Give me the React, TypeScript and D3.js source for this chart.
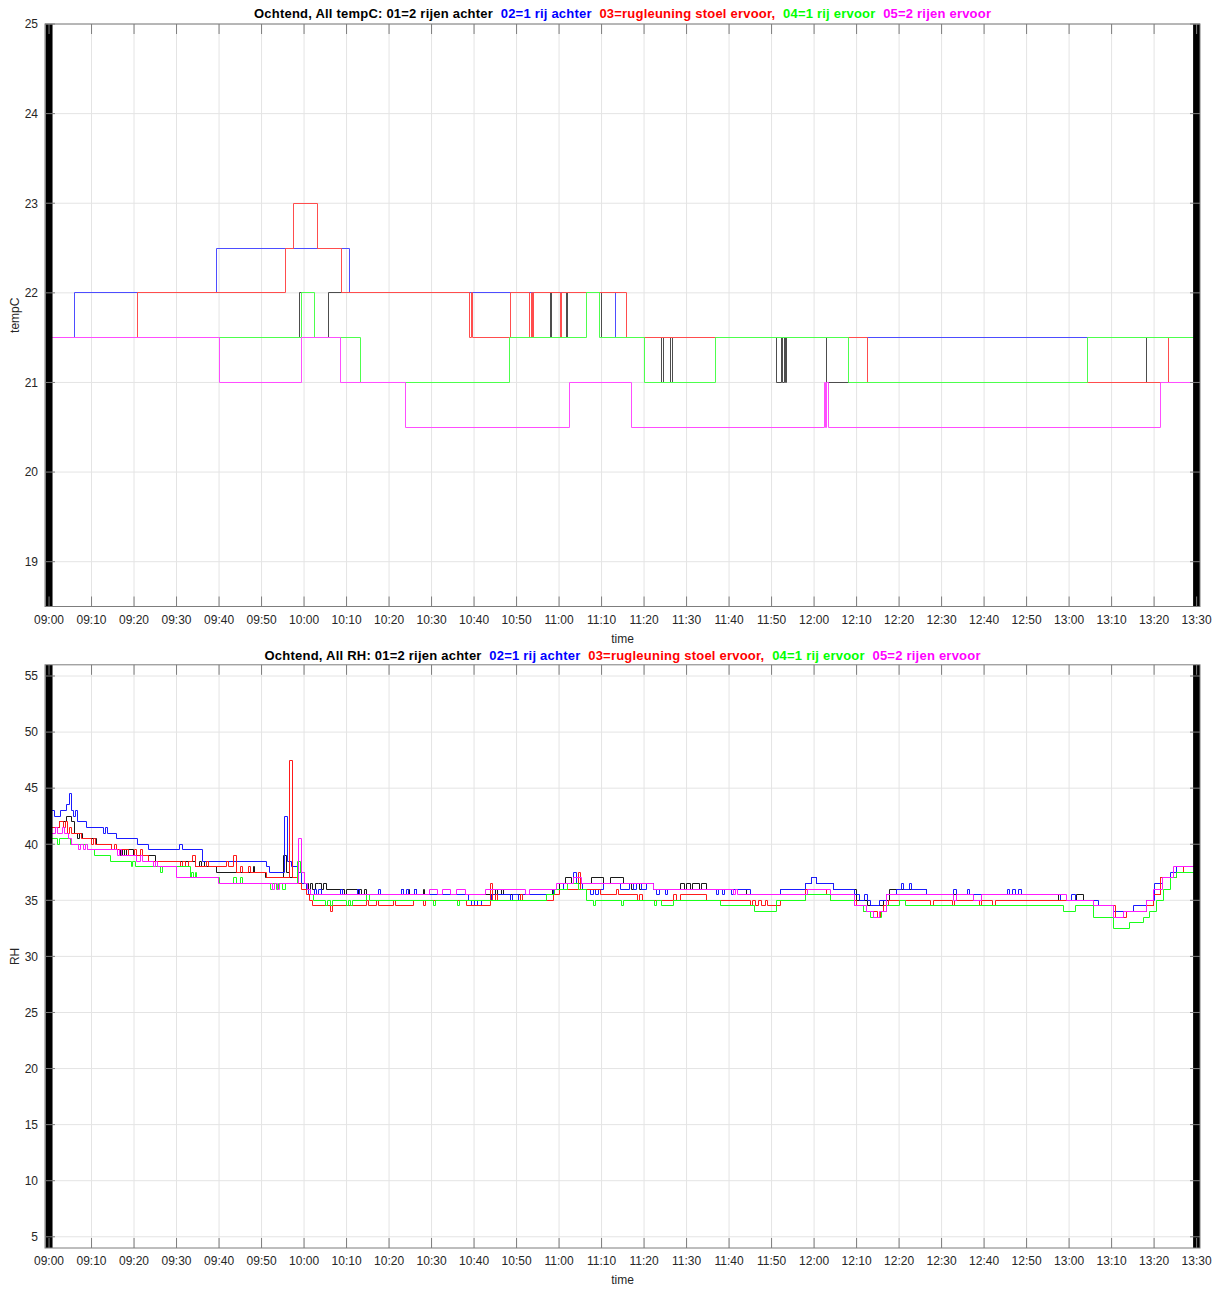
import React from 'react';
import * as d3 from 'd3';

// ---------- DATA ----------
// time in minutes after 09:00
const timeTickMinutes = [0, 10, 20, 30, 40, 50, 60, 70, 80, 90, 100, 110, 120, 130, 140, 150, 160, 170, 180, 190, 200, 210, 220, 230, 240, 250, 260, 270];
const timeTickLabels = ['09:00', '09:10', '09:20', '09:30', '09:40', '09:50', '10:00', '10:10', '10:20', '10:30', '10:40', '10:50', '11:00', '11:10', '11:20', '11:30', '11:40', '11:50', '12:00', '12:10', '12:20', '12:30', '12:40', '12:50', '13:00', '13:10', '13:20', '13:30'];
const tempTicks = [19, 20, 21, 22, 23, 24, 25];
const rhTicks = [5, 10, 15, 20, 25, 30, 35, 40, 45, 50, 55];
const edgeMarkers = [0, 270];

const seriesColors = ['#000000', '#0000ff', '#ff0000', '#00ff00', '#ff00ff'];
const titleTempParts = ['Ochtend, All tempC: 01=2 rijen achter  ', '02=1 rij achter  ', '03=rugleuning stoel ervoor,  ', '04=1 rij ervoor  ', '05=2 rijen ervoor'];
const titleRhParts = ['Ochtend, All RH: 01=2 rijen achter  ', '02=1 rij achter  ', '03=rugleuning stoel ervoor,  ', '04=1 rij ervoor  ', '05=2 rijen ervoor'];

// temperature [minute, value] change points
const temp01: [number, number][] = [[0, 21.5], [59, 22], [59.4, 21.5], [65.8, 22], [118, 21.5], [118.3, 22], [121.8, 21.5], [122.1, 22], [130, 21.5], [144.2, 21], [144.5, 21.5], [146.3, 21], [146.6, 21.5], [171.2, 21], [172.3, 21.5], [172.6, 21], [173, 21.5], [173.3, 21], [173.6, 21.5], [183, 21], [258.3, 21.5], [270, 21.5]];
const temp02: [number, number][] = [[0, 21.5], [6.05, 22], [39.5, 22.5], [70.7, 22], [133.2, 21.5], [270, 21.5]];
const temp03: [number, number][] = [[0, 21.5], [20.7, 22], [55.7, 22.5], [57.6, 23], [63.2, 22.5], [68.9, 22], [98.9, 21.5], [99.3, 22], [99.6, 21.5], [108.5, 22], [113, 21.5], [113.4, 22], [113.7, 21.5], [114, 22], [120.3, 21.5], [120.6, 22], [135.8, 21.5], [192.5, 21], [263.4, 21.5], [270, 21.5]];
const temp04: [number, number][] = [[0, 21.5], [59.3, 22], [62.4, 21.5], [73.3, 21], [108.3, 21.5], [126.5, 22], [129.4, 21.5], [140.2, 21], [156.9, 21.5], [188.2, 21], [244.3, 21.5], [270, 21.5]];
const temp05: [number, number][] = [[0, 21.5], [40, 21], [59.3, 21.5], [68.5, 21], [83.8, 20.5], [122.4, 21], [137, 20.5], [182.4, 21], [182.7, 20.5], [183, 21], [183.4, 20.5], [261.6, 21], [270, 21]];

// relative humidity [minute, value] change points
const rh01: [number, number][] = [[0, 41.5], [2.5, 42], [4.2, 42.5], [5.2, 42], [5.9, 41], [6.6, 40.5], [7.2, 41], [7.8, 40.5], [11.2, 40], [14.8, 39.5], [16.8, 39], [17.2, 39.5], [17.8, 39], [18.2, 39.5], [19.8, 39], [25, 38.5], [34.5, 38], [35.3, 38.5], [35.8, 38], [36.6, 38.5], [37, 38], [39.5, 37.5], [48, 38], [48.4, 37.5], [51, 37], [55.2, 39], [55.8, 37.5], [56.5, 37], [58.5, 37.5], [59.3, 36.5], [61, 36], [61.6, 36.5], [62, 36], [62.6, 36.5], [63.5, 36.5], [64, 36], [64.6, 36.5], [65.2, 36], [69.5, 35.5], [69.9, 36], [72.5, 35.5], [72.9, 36], [73.5, 35.5], [74.2, 36], [74.7, 35.5], [83, 36], [83.4, 35.5], [84.5, 36], [84.9, 35.5], [86, 36], [86.4, 35.5], [88, 36], [88.4, 35.5], [105, 36], [105.5, 35.5], [106.5, 36], [107, 35.5], [118.5, 36], [120, 36.5], [121.5, 37], [123, 36.5], [127.7, 37], [130.4, 36.5], [132, 37], [135.2, 36.5], [137, 36], [137.4, 36.5], [139, 36], [139.4, 36.5], [142.2, 36], [148.5, 36.5], [149.5, 36], [150, 36.5], [151, 36], [151.5, 36.5], [153, 36], [153.5, 36.5], [154.8, 36], [164, 35.5], [172, 36], [178, 36.5], [179.5, 37], [180.5, 36.5], [184.5, 36], [190, 35], [192.5, 34.5], [196.3, 35], [197.8, 36], [206.5, 35.5], [237.5, 35], [241.7, 35.5], [243.5, 35], [245.7, 34.5], [250.4, 34], [258.3, 34.5], [259.8, 35.5], [261.5, 37], [265.3, 38], [270, 38]];
const rh02: [number, number][] = [[0, 43], [1.3, 42.5], [2.7, 43], [4.2, 43.5], [4.7, 44.5], [5.2, 43], [5.7, 42.5], [6.2, 43], [6.6, 42], [8.9, 41.5], [12.8, 41], [13.3, 41.5], [13.8, 41], [15.9, 40.5], [20.9, 40], [23.3, 39.5], [30.8, 40], [31.3, 39.5], [36, 38.5], [51.2, 38], [51.8, 37.5], [55.3, 42.5], [56, 38.5], [57, 38], [58.8, 37.5], [59.5, 36.5], [60.5, 36], [61, 35.5], [62.5, 36], [63, 35.5], [63.5, 36], [64, 35.5], [68.5, 36], [69, 35.5], [72.5, 36], [73, 35.5], [77.5, 36], [78, 35.5], [83, 36], [83.5, 35.5], [84, 36], [84.5, 35.5], [86, 36], [86.5, 35.5], [98.7, 35], [99.5, 34.5], [100, 35], [100.8, 34.5], [101.8, 35], [104, 35.5], [108.5, 35], [109, 35.5], [110.5, 35], [111, 35.5], [118.7, 36], [121, 36.5], [123.3, 37.5], [124, 36.5], [125.5, 36], [127.3, 35.5], [128, 36], [128.6, 35.5], [129.2, 36], [130.5, 36.5], [134.4, 36], [136.6, 36.5], [137.5, 36], [138.2, 36.5], [139.5, 36], [140.5, 36.5], [142.2, 36], [143, 35.5], [143.7, 36], [145, 35.5], [145.6, 36], [157, 35.5], [157.6, 36], [158.5, 35.5], [159, 36], [160.5, 35.5], [161, 36], [165, 35.5], [172, 36], [178, 36.5], [179.5, 37], [180.5, 36.5], [184.5, 36], [189.6, 35.5], [190.8, 35], [191.8, 35.5], [192.5, 35], [193.2, 34.5], [195.5, 35], [197, 35.5], [199.4, 36], [200.5, 36.5], [201, 36], [202.5, 36.5], [203, 36], [206.5, 35.5], [212.8, 36], [213.5, 35.5], [216, 36], [216.5, 35.5], [225.5, 36], [226, 35.5], [226.8, 36], [227.3, 35.5], [228.2, 36], [228.7, 35.5], [238, 35], [240.5, 35.5], [241.5, 35], [247, 34.5], [250.4, 34], [255.1, 34.5], [258.3, 35], [260, 36.5], [262, 37], [263.8, 37.5], [265.3, 38], [270, 38]];
const rh03: [number, number][] = [[0, 41.5], [2.5, 42], [3.3, 41.5], [3.8, 42], [4.3, 41], [4.8, 41.5], [5.3, 41], [7.7, 40.5], [10, 40], [10.5, 40.5], [11, 40], [14.7, 39.5], [15.3, 40], [15.8, 39.5], [18.7, 39], [20, 39.5], [20.5, 39], [21.5, 39.5], [22, 39], [23.4, 38.5], [31, 38], [31.5, 38.5], [32.2, 38], [32.7, 38.5], [33.8, 39], [34.4, 38], [37, 38.5], [37.5, 38], [41.8, 38.5], [42.2, 38], [43.5, 39], [44, 37.5], [45, 38], [45.5, 37.5], [47, 38], [47.5, 37.5], [51.2, 37], [56.6, 47.5], [57.2, 37], [58.5, 36.5], [59.5, 36], [60.5, 35.5], [61.3, 35], [62, 34.5], [66.3, 34], [66.8, 34.5], [74.7, 35], [75.2, 34.5], [77, 35], [77.5, 34.5], [81, 35], [81.5, 34.5], [85.7, 35], [88, 34.5], [88.5, 35], [98.3, 34.5], [103.8, 36.5], [104.3, 35], [105, 35.5], [105.5, 35], [111, 35.5], [111.5, 35], [118.7, 35.5], [120.2, 36], [124.5, 37.5], [125, 36], [129.7, 35.5], [133.5, 36], [134, 35.5], [138.5, 35], [139, 35.5], [139.6, 35], [147, 35.5], [147.6, 35], [148.5, 35.5], [154.8, 35], [165, 34.5], [165.6, 35], [166.2, 34.5], [167, 35], [167.6, 34.5], [168.5, 35], [169, 34.5], [172, 35], [178, 36], [183, 35.5], [183.8, 35], [190, 34.5], [191.7, 34], [195, 33.5], [195.6, 34], [196.3, 34.5], [197.5, 35], [207.5, 34.5], [208, 35], [212.5, 34.5], [213, 35], [219, 34.5], [219.5, 35], [222, 34.5], [222.6, 35], [245.7, 34.5], [251, 33.5], [253.6, 34], [258.3, 34.5], [259.8, 35.5], [261.5, 37], [265.3, 37.5], [267, 38], [270, 38]];
const rh04: [number, number][] = [[0, 40.5], [2, 40], [2.5, 40.5], [5, 40], [9, 39.5], [10.8, 39], [14.4, 38.5], [19.3, 38], [19.7, 38.5], [20.3, 38], [26.2, 37.5], [26.8, 38], [33.2, 37], [33.6, 37.5], [34, 37], [34.4, 37.5], [34.8, 37], [40.2, 36.5], [43.5, 37], [44, 36.5], [45, 37], [45.5, 36.5], [52, 36], [52.6, 36.5], [53.5, 36], [54, 36.5], [55, 36], [55.6, 36.5], [58.5, 38.5], [59.2, 37.5], [60, 36.5], [60.7, 36], [61.4, 35.5], [62.3, 35], [65, 34.5], [65.5, 35], [66.2, 34.5], [66.8, 35], [70, 34.5], [70.5, 35], [71, 34.5], [71.4, 35], [74.7, 35.5], [75.5, 35], [90.5, 34.5], [91, 35], [96, 34.5], [96.5, 35], [117, 35.5], [119, 36], [122, 36.5], [124.5, 36], [126.5, 35], [128, 34.5], [128.5, 35], [134.6, 34.5], [135.1, 35], [142.4, 34.5], [142.9, 35], [144.2, 34.5], [147, 35], [158, 34.5], [166, 34], [171.2, 35], [178, 35.5], [183.8, 35], [189.6, 34.5], [191.6, 34], [193.2, 33.5], [195.9, 34], [197, 34.5], [200.2, 35], [201.5, 34.5], [238.7, 34], [241.5, 34.5], [245.7, 33.5], [250.4, 32.5], [254.3, 33], [257.5, 33.5], [259, 34], [260.6, 35], [262.2, 36], [263.8, 37], [265.3, 37.5], [270, 37.5]];
const rh05: [number, number][] = [[0, 41], [1.5, 41.5], [2, 41], [3.2, 41.5], [3.7, 41], [4.5, 40.5], [5.2, 40], [7, 39.5], [7.4, 40], [8, 39.5], [8.5, 40], [9, 39.5], [16, 39], [16.5, 39.5], [17, 39], [20.6, 38.5], [21.5, 39], [22, 38.5], [24.5, 38], [25, 38.5], [25.5, 38], [30, 37], [39.8, 36.5], [52.5, 36], [53, 36.5], [53.8, 36], [54.3, 36.5], [58.7, 40.5], [59.4, 37.5], [60, 36.5], [60.8, 36], [61.5, 35.5], [89.5, 36], [91.5, 35.5], [92.5, 36], [94.5, 35.5], [95.9, 36], [97.9, 35.5], [102.6, 36], [112, 35.5], [113, 36], [119.5, 36.5], [123.4, 37], [125.3, 36.5], [142.2, 36], [161, 35.5], [161.5, 36], [162, 35.5], [178.5, 36], [183.8, 35.5], [189.6, 34.5], [192.4, 34], [194, 33.5], [195.5, 34], [197, 35.5], [212.8, 35], [213.5, 35.5], [217.5, 35], [219.5, 35.5], [239.5, 35], [245.7, 34.5], [250.4, 33.5], [252.8, 34], [258.3, 35], [259.8, 36], [262, 37], [264.5, 38], [270, 38]];

const tempSeries = [temp01, temp02, temp03, temp04, temp05];
const rhSeries = [rh01, rh02, rh03, rh04, rh05];

// ---------- LAYOUT ----------
const W = 1219;
const H = 1289;
const X0 = 45;
const X1 = 1200;
const xScale = d3.scaleLinear().domain([-0.95, 270.8]).range([X0, X1]);
const snap = (v: number) => Math.round(v - 0.5) + 0.5;

const AXIS = '#7d7d7d';
const GRID = '#e4e4e4';
const TXT = '#262626';
const FONT = 'Liberation Sans, Arial, Helvetica, sans-serif';

type PanelProps = {
  id: string;
  top: number;
  bottom: number;
  yDomain: [number, number];
  yTicks: number[];
  series: [number, number][][];
  lighten: number;
  titleParts: string[];
  titleY: number;
  titleWidth: number;
  ylabel: string;
};

function Panel({ id, top, bottom, yDomain, yTicks, series, lighten, titleParts, titleY, titleWidth, ylabel }: PanelProps) {
  const y = d3.scaleLinear().domain(yDomain).range([bottom, top]);
  const line = d3
    .line<[number, number]>()
    .x((d) => snap(xScale(d[0])))
    .y((d) => snap(y(d[1])))
    .curve(d3.curveStepAfter);
  const lineColors = seriesColors.map((c) => d3.interpolateRgb(c, '#ffffff')(lighten));
  const tick = 10;
  return (
    <g>
      <defs>
        <clipPath id={`clip-${id}`}>
          <rect x={X0} y={top} width={X1 - X0} height={bottom - top} />
        </clipPath>
      </defs>
      {/* grid */}
      {timeTickMinutes.map((m) => (
        <line key={`gx${m}`} x1={xScale(m)} x2={xScale(m)} y1={top} y2={bottom} stroke={GRID} strokeWidth={1} />
      ))}
      {yTicks.map((v) => (
        <line key={`gy${v}`} x1={X0} x2={X1} y1={y(v)} y2={y(v)} stroke={GRID} strokeWidth={1} />
      ))}
      {/* data */}
      <g clipPath={`url(#clip-${id})`}>
        {series.map((s, i) => (
          <path key={i} d={line(s) || ''} fill="none" stroke={lineColors[i]} strokeWidth={1} />
        ))}
        {edgeMarkers.map((m) => (
          <line key={`e${m}`} x1={xScale(m)} x2={xScale(m)} y1={top} y2={bottom} stroke="#000" strokeWidth={7} />
        ))}
      </g>
      {/* box */}
      <rect x={X0} y={top} width={X1 - X0} height={bottom - top} fill="none" stroke={AXIS} strokeWidth={1} />
      {/* ticks */}
      {timeTickMinutes.map((m) => (
        <g key={`tx${m}`}>
          <line x1={xScale(m)} x2={xScale(m)} y1={bottom} y2={bottom - tick} stroke={AXIS} />
          <line x1={xScale(m)} x2={xScale(m)} y1={top} y2={top + tick} stroke={AXIS} />
        </g>
      ))}
      {yTicks.map((v) => (
        <g key={`ty${v}`}>
          <line x1={X0} x2={X0 + tick} y1={y(v)} y2={y(v)} stroke={AXIS} />
          <line x1={X1} x2={X1 - tick} y1={y(v)} y2={y(v)} stroke={AXIS} />
        </g>
      ))}
      {/* tick labels */}
      {timeTickMinutes.map((m, i) => (
        <text key={`lx${m}`} x={xScale(m)} y={bottom + 17} textAnchor="middle" fontSize={12} fill={TXT} fontFamily={FONT}>
          {timeTickLabels[i]}
        </text>
      ))}
      {yTicks.map((v) => (
        <text key={`ly${v}`} x={X0 - 7} y={y(v) + 4.3} textAnchor="end" fontSize={12} fill={TXT} fontFamily={FONT}>
          {v}
        </text>
      ))}
      {/* axis labels */}
      <text x={(X0 + X1) / 2} y={bottom + 36} textAnchor="middle" fontSize={12} fill={TXT} fontFamily={FONT}>
        time
      </text>
      <text
        transform={`translate(19,${(top + bottom) / 2}) rotate(-90)`}
        textAnchor="middle"
        fontSize={12}
        fill={TXT}
        fontFamily={FONT}
      >
        {ylabel}
      </text>
      {/* title */}
      <text
        x={(X0 + X1) / 2}
        y={titleY}
        textAnchor="middle"
        fontSize={13}
        fontWeight="bold"
        fontFamily={FONT}
        textLength={titleWidth}
        lengthAdjust="spacing"
        style={{ whiteSpace: 'pre' }}
      >
        {titleParts.map((p, i) => (
          <tspan key={i} fill={seriesColors[i]}>
            {p}
          </tspan>
        ))}
      </text>
    </g>
  );
}

export default function App() {
  return (
    <svg
      width={W}
      height={H}
      style={{ position: 'absolute', left: 0, top: 0, background: '#fff' }}
      xmlns="http://www.w3.org/2000/svg"
    >
      <rect x={0} y={0} width={W} height={H} fill="#fff" />
      <Panel
        id="temp"
        top={24}
        bottom={606.5}
        yDomain={[18.5, 25]}
        yTicks={tempTicks}
        series={tempSeries}
        lighten={0.3}
        titleParts={titleTempParts}
        titleY={17.5}
        titleWidth={737}
        ylabel="tempC"
      />
      <Panel
        id="rh"
        top={664.8}
        bottom={1248}
        yDomain={[4, 56]}
        yTicks={rhTicks}
        series={rhSeries}
        lighten={0.1}
        titleParts={titleRhParts}
        titleY={659.5}
        titleWidth={716}
        ylabel="RH"
      />
    </svg>
  );
}
